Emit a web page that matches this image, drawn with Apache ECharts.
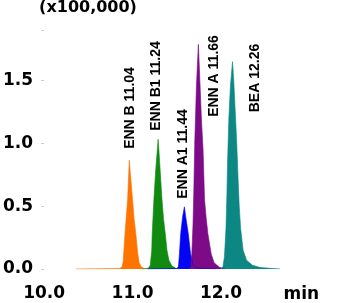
<!DOCTYPE html>
<html>
<head>
<meta charset="utf-8">
<script src="https://cdn.jsdelivr.net/npm/echarts@6/dist/echarts.min.js"></script>
<style>
html,body{margin:0;padding:0;background:#fff;}
#main{width:355px;height:303px;}
</style>
</head>
<body>
<div id="main"></div>
<script>
// data (x: min, y: x100,000)
var xTicks = [10, 11, 12];
var yTicks = [0, 0.5, 1.0, 1.5];
var peakNames = ['ENN B 11.04', 'ENN B1 11.24', 'ENN A1 11.44', 'ENN A 11.66', 'BEA 12.26'];
var peakColors = ['#ff7300', '#118a11', '#0505f5', '#7d0a87', '#0c8783'];

var ennB = [[10.356,0],[10.856,0.003],[10.883,0.02],[10.894,0.06],[10.914,0.28],[10.933,0.45],[10.944,0.55],
	[10.956,0.75],[10.963,0.865],[10.972,0.78],[11.0,0.55],[11.017,0.4],[11.037,0.28],[11.056,0.14],
	[11.074,0.05],[11.1,0.015],[11.144,0]];
var ennB1 = [[11.111,0],[11.178,0.005],[11.2,0.03],[11.217,0.15],[11.222,0.28],[11.241,0.55],[11.261,0.78],
	[11.289,1.03],[11.3,0.92],[11.333,0.55],[11.35,0.4],[11.37,0.28],[11.389,0.15],[11.411,0.07],
	[11.444,0.025],[11.489,0.005],[11.533,0]];
var ennA1 = [[11.167,0],[11.5,0.003],[11.519,0.02],[11.53,0.12],[11.544,0.28],[11.567,0.42],[11.586,0.494],
	[11.6,0.42],[11.63,0.28],[11.656,0.12],[11.686,0.03],[11.733,0.008],[11.944,0]];
var ennA = [[11.644,0],[11.661,0.02],[11.672,0.15],[11.683,0.35],[11.692,0.6],[11.703,1.0],[11.722,1.45],
	[11.744,1.786],[11.761,1.5],[11.778,1.2],[11.797,0.95],[11.814,0.55],[11.833,0.4],[11.852,0.28],
	[11.889,0.12],[11.922,0.05],[11.978,0.015],[12.044,0]];
var bea = [[12.0,0],[12.022,0.02],[12.039,0.1],[12.056,0.32],[12.067,0.6],[12.074,0.85],[12.089,1.2],
	[12.106,1.45],[12.13,1.648],[12.144,1.5],[12.161,1.25],[12.178,1.0],[12.194,0.7],[12.206,0.5],
	[12.222,0.32],[12.25,0.15],[12.289,0.07],[12.356,0.03],[12.444,0.012],[12.556,0.005],[12.667,0]];

var peaks = [ennB, ennB1, ennA1, ennA, bea];

var dom = document.getElementById("main");
var myChart = echarts.init(dom);

var series = [];
for (var i = 0; i < peaks.length; i++) {
	series.push({
		name: peakNames[i],
		type: 'line',
		data: peaks[i],
		symbol: 'none',
		smooth: false,
		color: peakColors[i],
		lineStyle: {width: 1, opacity: 0.6},
		areaStyle: {opacity: 1}
	});
}

// rotated peak labels
var labelPos = [[130,108],[156.5,86],[183,154],[214.5,76],[255,78]];
var graphics = [];
for (var j = 0; j < peakNames.length; j++) {
	graphics.push({
		type: 'text',
		x: labelPos[j][0],
		y: labelPos[j][1],
		rotation: Math.PI / 2,
		style: {
			text: peakNames[j],
			font: 'bold 14px "Liberation Sans", Arial, sans-serif',
			fill: '#000',
			align: 'center',
			verticalAlign: 'middle'
		}
	});
}

var labelFont = {
	fontFamily: '"DejaVu Sans", sans-serif',
	fontWeight: 'bold',
	fontSize: 17,
	color: '#000'
};

var option = {
	animation: false,
	grid: {
		left: 40,
		right: 76.5,
		top: 30,
		bottom: 33
	},
	xAxis: {
		type: 'value',
		min: 10,
		max: 12.65,
		interval: 1,
		name: 'min',
		nameLocation: 'end',
		nameGap: 5,
		nameTextStyle: {
			fontFamily: '"DejaVu Sans", sans-serif',
			fontWeight: 'bold',
			fontSize: 17,
			color: '#000',
			verticalAlign: 'top',
			padding: [17, 0, 0, 0]
		},
		axisLine: {show: false},
		axisTick: {show: false},
		splitLine: {show: false},
		axisLabel: Object.assign({
			margin: 16,
			formatter: function (v) {
				return xTicks.indexOf(v) > -1 ? v.toFixed(1) : '';
			}
		}, labelFont)
	},
	yAxis: {
		type: 'value',
		min: 0,
		max: 1.9,
		interval: 0.5,
		name: '(x100,000)',
		nameLocation: 'end',
		nameGap: 14,
		nameTextStyle: {
			fontFamily: '"DejaVu Sans", sans-serif',
			fontWeight: 'bold',
			fontSize: 16,
			color: '#000',
			align: 'left',
			padding: [0, 0, 0, -5]
		},
		axisLine: {show: false},
		axisTick: {show: true, length: 3, lineStyle: {color: '#ccc'}},
		splitLine: {show: false},
		axisLabel: Object.assign({
			margin: 11,
			formatter: function (v) {
				return yTicks.indexOf(v) > -1 ? v.toFixed(1) : '';
			}
		}, labelFont)
	},
	graphic: graphics,
	series: series
};

if (option && typeof option === "object") {
	myChart.setOption(option, true);
}
</script>
</body>
</html>
